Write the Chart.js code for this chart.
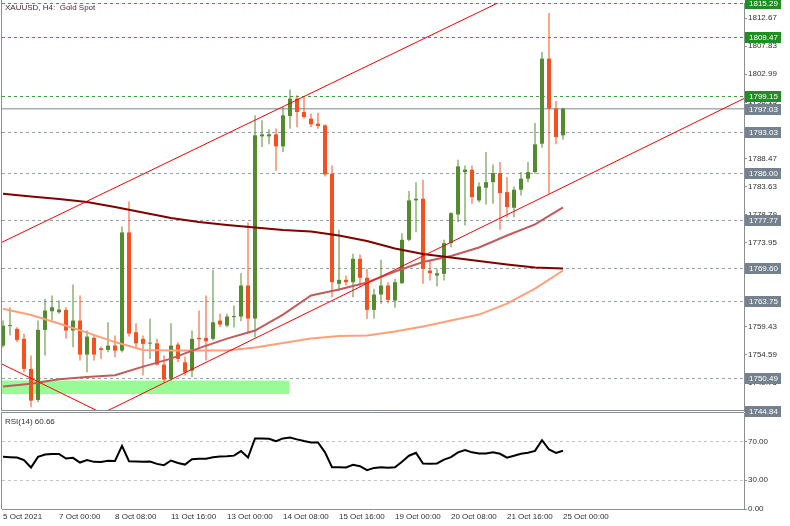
<!DOCTYPE html>
<html>
<head>
<meta charset="utf-8">
<title>XAUUSD H4</title>
<script src="https://cdn.jsdelivr.net/npm/chart.js@4.4.1/dist/chart.umd.min.js"></script>
<style>
  html, body { margin: 0; padding: 0; background: #fff; }
  #marco { position: relative; width: 790px; height: 526px; overflow: hidden; background: #fff; }
  #chart-precio { position: absolute; left: 0; top: 0; z-index: 2; }
  #chart-rsi { position: absolute; left: 0; top: 412px; z-index: 1; }
</style>
</head>
<body>
<div id="marco">
  <canvas id="chart-precio" width="790" height="420"></canvas>
  <canvas id="chart-rsi" width="790" height="114"></canvas>
</div>
<script>
'use strict';

//////////////////////////////////////////////////////////////////////
// DATOS
//////////////////////////////////////////////////////////////////////

// eje de tiempo: una vela H4 por indice
const posicionesFecha = [0, 8, 16, 24, 32, 40, 48, 56, 64, 72, 80];
const etiquetasFecha = [
  '5 Oct 2021', '7 Oct 00:00', '8 Oct 08:00', '11 Oct 16:00', '13 Oct 00:00',
  '14 Oct 08:00', '15 Oct 16:00', '19 Oct 00:00', '20 Oct 08:00',
  '21 Oct 16:00', '25 Oct 00:00'
];

const aperturas = [
  1756.13, 1759.50, 1759.02, 1757.30, 1752.11, 1746.75, 1758.85, 1762.06, 1761.89, 1762.30,
  1758.73, 1760.46, 1754.58, 1757.47, 1755.67, 1755.39, 1756.13, 1755.27, 1775.67, 1758.44,
  1757.30, 1756.48, 1756.53, 1752.85, 1750.38, 1756.31, 1753.25, 1751.81, 1757.47, 1757.47,
  1757.30, 1760.46, 1759.59, 1761.06, 1761.15, 1766.51, 1760.80, 1792.26, 1792.26, 1792.61,
  1790.53, 1795.77, 1798.78, 1796.46, 1795.32, 1794.46, 1794.16, 1785.82, 1766.80, 1767.49,
  1767.08, 1771.12, 1767.84, 1762.30, 1764.95, 1766.51, 1763.91, 1766.90, 1774.40, 1781.20,
  1781.49, 1769.10, 1768.23, 1768.53, 1773.82, 1778.78, 1786.09, 1786.51, 1781.20, 1783.39,
  1784.36, 1785.92, 1782.63, 1779.94, 1783.05, 1784.95, 1786.09, 1791.00, 1805.69, 1797.05,
  1792.44
];
const maximos = [
  1760.46, 1762.76, 1759.30, 1758.16, 1754.41, 1760.46, 1764.21, 1764.78, 1763.91, 1762.76,
  1766.68, 1764.78, 1758.73, 1757.87, 1755.96, 1760.16, 1757.87, 1776.71, 1781.03, 1759.99,
  1757.87, 1760.75, 1757.30, 1754.41, 1759.99, 1756.71, 1754.23, 1758.73, 1762.18, 1764.78,
  1769.22, 1761.62, 1761.62, 1763.05, 1768.63, 1777.40, 1795.89, 1795.03, 1793.47, 1793.64,
  1797.33, 1800.34, 1799.35, 1799.06, 1796.19, 1796.36, 1794.34, 1787.25, 1776.13, 1768.23,
  1771.98, 1771.86, 1769.39, 1765.93, 1770.95, 1767.08, 1767.66, 1775.55, 1782.81, 1784.36,
  1784.78, 1770.95, 1769.39, 1774.40, 1779.18, 1788.23, 1787.25, 1787.25, 1784.36, 1789.55,
  1787.42, 1787.82, 1785.23, 1783.62, 1786.09, 1787.82, 1794.56, 1806.83, 1813.58, 1798.37,
  1797.20
];
const minimos = [
  1755.79, 1757.87, 1756.71, 1751.52, 1745.47, 1746.34, 1754.41, 1760.46, 1761.62, 1757.30,
  1755.84, 1753.54, 1751.52, 1753.54, 1753.84, 1754.98, 1754.11, 1754.92, 1757.69, 1755.84,
  1750.95, 1753.84, 1752.68, 1749.79, 1750.08, 1753.25, 1750.95, 1750.65, 1755.84, 1753.54,
  1757.00, 1759.30, 1759.30, 1759.25, 1760.33, 1758.21, 1757.52, 1790.41, 1790.88, 1786.26,
  1789.55, 1793.59, 1793.82, 1795.32, 1793.87, 1793.59, 1785.35, 1764.48, 1765.64, 1766.51,
  1764.48, 1766.21, 1760.75, 1760.75, 1763.34, 1763.45, 1762.65, 1766.80, 1774.16, 1775.72,
  1766.80, 1767.37, 1766.33, 1767.37, 1773.13, 1777.45, 1776.88, 1780.63, 1780.86, 1780.51,
  1780.63, 1776.13, 1778.31, 1778.31, 1782.06, 1784.36, 1785.82, 1790.31, 1782.36, 1790.88,
  1791.69
];
const cierres = [
  1759.59, 1759.60, 1757.12, 1752.11, 1746.63, 1758.85, 1762.18, 1762.76, 1762.36, 1758.73,
  1760.46, 1754.58, 1757.69, 1754.58, 1755.39, 1756.13, 1755.27, 1775.67, 1758.21, 1756.53,
  1756.43, 1756.57, 1752.85, 1750.26, 1756.13, 1753.84, 1751.52, 1757.30, 1757.22, 1756.88,
  1760.16, 1759.77, 1761.15, 1761.24, 1766.51, 1760.80, 1792.44, 1792.61, 1792.61, 1790.53,
  1795.89, 1798.78, 1796.46, 1795.60, 1794.34, 1794.04, 1785.69, 1767.08, 1767.49, 1767.08,
  1771.12, 1767.84, 1762.30, 1764.95, 1766.51, 1764.03, 1767.08, 1774.40, 1781.20, 1781.49,
  1769.39, 1768.63, 1768.63, 1773.82, 1779.00, 1787.08, 1786.51, 1781.77, 1783.62, 1784.36,
  1785.92, 1782.46, 1780.04, 1783.05, 1784.95, 1786.09, 1790.88, 1805.69, 1797.05, 1792.14,
  1797.03
];

// medias moviles leidas cada 4 velas
const mmBarras = [0, 4, 8, 12, 16, 20, 24, 28, 32, 36, 40, 44, 48, 52, 56, 60, 64, 68, 72, 76, 80];
const mmLenta = [
  1782.36, 1781.89, 1781.46, 1780.94, 1780.07, 1779.12, 1778.17, 1777.48, 1776.96, 1776.53,
  1776.10, 1775.84, 1775.15, 1774.20, 1772.90, 1771.95, 1771.34, 1770.74, 1770.13, 1769.62,
  1769.45
];
const mmMedia = [
  1749.05, 1749.56, 1750.34, 1750.69, 1751.03, 1752.50, 1753.89, 1755.70, 1757.34, 1758.73,
  1761.49, 1764.78, 1765.81, 1767.02, 1768.92, 1770.57, 1771.60, 1773.07, 1775.15, 1777.05,
  1779.99
];
const mmRapida = [
  1762.48, 1761.41, 1759.94, 1758.38, 1756.74, 1755.36, 1755.27, 1755.27, 1755.27, 1755.79,
  1756.57, 1757.34, 1757.78, 1757.86, 1758.55, 1759.42, 1760.45, 1761.49, 1763.39, 1765.99,
  1769.10
];

const rsiValores = [
  54.3, 54.0, 53.6, 50.9, 43.2, 54.3, 56.8, 57.3, 57.3, 52.6,
  53.3, 48.4, 50.9, 49.1, 49.0, 50.2, 50.0, 65.8, 49.8, 49.6,
  49.3, 49.5, 47.0, 45.7, 50.5, 48.0, 46.3, 51.8, 52.3, 52.3,
  54.0, 54.6, 55.0, 55.6, 60.3, 53.6, 73.5, 73.5, 73.2, 70.7,
  73.5, 74.5, 72.5, 70.8, 69.3, 69.3, 59.0, 43.5, 43.6, 43.2,
  46.0, 44.6, 40.4, 42.8, 43.4, 43.0, 43.5, 49.3, 55.5, 58.5,
  47.4, 47.2, 47.5, 51.5, 54.0, 59.0, 61.3, 59.0, 57.8, 57.9,
  59.2, 57.5, 53.5, 55.4, 57.5, 58.6, 60.5, 71.7, 62.0, 58.5,
  60.66
];

// lineas de tendencia: [indice vela, precio]
const canalSuperior = [[-0.43, 1773.82], [80, 1820.73]];
const canalInferior = [[13.14, 1743.83], [106, 1798.89]];
const lineaBajista = [[-0.43, 1753.11], [15.29, 1743.80]];

// zona de soporte (rectangulo)
const zonaBarras = [-1, 40.9];
const zonaPrecios = [1747.79, 1750.09];

// niveles horizontales
const nivelesVerdes = [1815.29, 1809.47, 1799.15];
const nivelesGrises = [1793.03, 1786.00, 1777.77, 1769.60, 1763.75, 1750.49];
const precioBid = 1797.03;
const precioBase = 1744.84;

const ticksPrecio = [
  1812.67, 1807.83, 1802.99, 1798.15, 1793.31, 1788.47, 1783.63, 1778.79,
  1773.95, 1769.11, 1764.27, 1759.43, 1754.59, 1749.75
];
const ticksRsi = [0, 30, 70, 100];
const rangoPrecio = [1744.84, 1815.29];

//////////////////////////////////////////////////////////////////////
// ESTILO
//////////////////////////////////////////////////////////////////////

const X_MIN = -1 / 7;
const X_MAX = X_MIN + 106;
const ANCHO_EJE = 46;

const COLOR_ALCISTA = '#558b2f';
const COLOR_BAJISTA = '#f4511e';
const GRIS_EJE = '#8a8f96';
const COLOR_TEXTO = '#303030';
const VERDE_NIVEL = '#3f9f3f';
const GRIS_NIVEL = '#96a0aa';
const CAJA_VERDE = '#1f8f22';
const CAJA_GRIS = '#76818e';
const COLOR_BID = '#a7aeb6';

Chart.defaults.font.family = "'Liberation Sans', Arial, sans-serif";
Chart.defaults.font.size = 8;
Chart.defaults.color = COLOR_TEXTO;

function fuente() {
  return "8px 'Liberation Sans', Arial, sans-serif";
}

function pares(lista) {
  return lista.map(function (p) {
    return { x: p[0], y: p[1] };
  });
}

function puntosMedia(valores) {
  return valores.map(function (v, i) {
    return { x: mmBarras[i], y: v };
  });
}

function colorVela(i) {
  return cierres[i] >= aperturas[i] ? COLOR_ALCISTA : COLOR_BAJISTA;
}

//////////////////////////////////////////////////////////////////////
// PLUGINS
//////////////////////////////////////////////////////////////////////

function lineaNivel(ctx, area, py, color, dash, ancho) {
  ctx.save();
  ctx.strokeStyle = color;
  ctx.lineWidth = ancho;
  ctx.setLineDash(dash);
  ctx.beginPath();
  ctx.moveTo(area.left, py);
  ctx.lineTo(area.right, py);
  ctx.stroke();
  ctx.restore();
}

function cajaPrecio(ctx, area, py, precio, fondo) {
  const yc = Math.round(py);
  ctx.fillStyle = fondo;
  ctx.fillRect(area.right + 1, yc - 5, 36, 11);
  ctx.fillStyle = '#ffffff';
  ctx.font = fuente();
  ctx.textAlign = 'left';
  ctx.textBaseline = 'middle';
  ctx.fillText(precio.toFixed(2), area.right + 5, yc + 0.5);
}

const pluginNiveles = {
  id: 'niveles',
  beforeDatasetsDraw: function (chart) {
    const ctx = chart.ctx;
    const area = chart.chartArea;
    const esc = chart.scales.y;
    ctx.save();
    ctx.beginPath();
    ctx.rect(area.left, 0, area.right - area.left, area.bottom + 1);
    ctx.clip();
    nivelesVerdes.forEach(function (p) {
      lineaNivel(ctx, area, Math.round(esc.getPixelForValue(p)) + 0.5, VERDE_NIVEL, [3, 3], 1);
    });
    nivelesGrises.forEach(function (p) {
      lineaNivel(ctx, area, Math.round(esc.getPixelForValue(p)) + 0.5, GRIS_NIVEL, [3, 3], 1);
    });
    lineaNivel(ctx, area, esc.getPixelForValue(precioBid), COLOR_BID, [], 1.6);
    ctx.restore();
  },
  afterDraw: function (chart) {
    const ctx = chart.ctx;
    const area = chart.chartArea;
    const esc = chart.scales.y;

    // borde inferior y lateral
    ctx.save();
    ctx.strokeStyle = GRIS_EJE;
    ctx.lineWidth = 1;
    ctx.beginPath();
    ctx.moveTo(area.left - 0.5, 0);
    ctx.lineTo(area.left - 0.5, area.bottom);
    ctx.moveTo(area.left, Math.round(esc.getPixelForValue(precioBase)) - 0.5);
    ctx.lineTo(area.right, Math.round(esc.getPixelForValue(precioBase)) - 0.5);
    ctx.stroke();
    ctx.restore();

    nivelesVerdes.forEach(function (p) {
      cajaPrecio(ctx, area, esc.getPixelForValue(p), p, CAJA_VERDE);
    });
    nivelesGrises.forEach(function (p) {
      cajaPrecio(ctx, area, esc.getPixelForValue(p), p, CAJA_GRIS);
    });
    cajaPrecio(ctx, area, esc.getPixelForValue(precioBid), precioBid, CAJA_GRIS);
    cajaPrecio(ctx, area, esc.getPixelForValue(precioBase) - 0.5, precioBase, CAJA_GRIS);

    ctx.fillStyle = COLOR_TEXTO;
    ctx.font = fuente();
    ctx.textAlign = 'left';
    ctx.textBaseline = 'alphabetic';
    ctx.fillText('XAUUSD, H4:  Gold Spot', 5, 10);
  }
};

const pluginMarcoRsi = {
  id: 'marcoRsi',
  afterDraw: function (chart) {
    const ctx = chart.ctx;
    const area = chart.chartArea;
    ctx.save();
    ctx.strokeStyle = GRIS_EJE;
    ctx.lineWidth = 1;
    ctx.beginPath();
    ctx.moveTo(area.left - 0.5, 0.5);
    ctx.lineTo(area.right, 0.5);
    ctx.moveTo(area.left - 0.5, 0);
    ctx.lineTo(area.left - 0.5, area.bottom);
    ctx.stroke();
    ctx.fillStyle = COLOR_TEXTO;
    ctx.font = fuente();
    ctx.textAlign = 'left';
    ctx.textBaseline = 'alphabetic';
    ctx.fillText('RSI(14) ' + rsiValores[rsiValores.length - 1].toFixed(2), 5, 12);
    ctx.restore();
  }
};

//////////////////////////////////////////////////////////////////////
// GRAFICO DE PRECIO
//////////////////////////////////////////////////////////////////////

function construirDatasetsPrecio() {
  const colores = aperturas.map(function (o, i) {
    return colorVela(i);
  });

  const datasets = [];

  datasets.push({
    type: 'line',
    data: [{ x: zonaBarras[0], y: zonaPrecios[1] }, { x: zonaBarras[1], y: zonaPrecios[1] }],
    borderWidth: 0,
    pointRadius: 0,
    backgroundColor: '#98fb98',
    fill: '+1',
    order: 8
  });
  datasets.push({
    type: 'line',
    data: [{ x: zonaBarras[0], y: zonaPrecios[0] }, { x: zonaBarras[1], y: zonaPrecios[0] }],
    borderWidth: 0,
    pointRadius: 0,
    fill: false,
    order: 9
  });

  datasets.push({
    type: 'bar',
    data: aperturas.map(function (o, i) {
      return { x: i, y: [minimos[i], maximos[i]] };
    }),
    backgroundColor: colores,
    barThickness: 1,
    grouped: false,
    borderWidth: 0,
    inflateAmount: 0,
    order: 6
  });
  datasets.push({
    type: 'bar',
    data: aperturas.map(function (o, i) {
      return { x: i, y: [o, cierres[i]] };
    }),
    backgroundColor: colores,
    barThickness: 4,
    grouped: false,
    borderWidth: 0,
    inflateAmount: 0,
    minBarLength: 1,
    order: 5
  });

  [
    { valores: mmLenta, color: '#800000' },
    { valores: mmMedia, color: '#c25b5b' },
    { valores: mmRapida, color: '#ffa07a' }
  ].forEach(function (m) {
    datasets.push({
      type: 'line',
      data: puntosMedia(m.valores),
      borderColor: m.color,
      borderWidth: 2,
      pointRadius: 0,
      tension: 0,
      fill: false,
      order: 3
    });
  });

  [canalSuperior, canalInferior, lineaBajista].forEach(function (l) {
    datasets.push({
      type: 'line',
      data: pares(l),
      borderColor: '#ff0000',
      borderWidth: 1,
      pointRadius: 0,
      fill: false,
      order: 1
    });
  });

  return datasets;
}

new Chart(document.getElementById('chart-precio').getContext('2d'), {
  type: 'line',
  data: { datasets: construirDatasetsPrecio() },
  options: {
    responsive: false,
    animation: false,
    devicePixelRatio: 1,
    events: [],
    layout: { padding: { left: 2, top: 3, right: 0, bottom: 9 } },
    plugins: { legend: { display: false }, tooltip: { enabled: false } },
    scales: {
      x: { type: 'linear', display: false, min: X_MIN, max: X_MAX, offset: false },
      y: {
        type: 'linear',
        position: 'right',
        min: rangoPrecio[0],
        max: rangoPrecio[1],
        afterBuildTicks: function (s) {
          s.ticks = ticksPrecio.map(function (v) { return { value: v }; });
        },
        afterFit: function (s) {
          s.width = ANCHO_EJE;
          s.paddingTop = 0;
          s.paddingBottom = 0;
        },
        grid: { drawOnChartArea: false, drawTicks: true, tickLength: 3, tickColor: GRIS_EJE },
        border: { display: true, color: GRIS_EJE },
        ticks: {
          padding: 1,
          color: COLOR_TEXTO,
          callback: function (v) { return Number(v).toFixed(2); }
        }
      }
    }
  },
  plugins: [pluginNiveles]
});

//////////////////////////////////////////////////////////////////////
// GRAFICO RSI
//////////////////////////////////////////////////////////////////////

new Chart(document.getElementById('chart-rsi').getContext('2d'), {
  type: 'line',
  data: {
    datasets: [{
      data: rsiValores.map(function (v, i) { return { x: i, y: v }; }),
      borderColor: '#000000',
      borderWidth: 2,
      pointRadius: 0,
      tension: 0,
      fill: false
    }]
  },
  options: {
    responsive: false,
    animation: false,
    devicePixelRatio: 1,
    events: [],
    layout: { padding: { left: 2, top: 1, right: 0, bottom: 0 } },
    plugins: { legend: { display: false }, tooltip: { enabled: false } },
    scales: {
      x: {
        type: 'linear',
        position: 'bottom',
        min: X_MIN,
        max: X_MAX,
        offset: false,
        afterBuildTicks: function (s) {
          s.ticks = posicionesFecha.map(function (v) { return { value: v }; });
        },
        afterFit: function (s) {
          s.height = 17;
          s.paddingLeft = 0;
          s.paddingRight = 0;
        },
        grid: { display: false, drawTicks: false, tickLength: 0 },
        border: { display: true, color: GRIS_EJE },
        ticks: {
          autoSkip: false,
          maxRotation: 0,
          minRotation: 0,
          align: 'start',
          padding: 3,
          color: COLOR_TEXTO,
          callback: function (v, i) { return etiquetasFecha[i]; }
        }
      },
      y: {
        type: 'linear',
        position: 'right',
        min: 0,
        max: 100,
        afterBuildTicks: function (s) {
          s.ticks = ticksRsi.map(function (v) { return { value: v }; });
        },
        afterFit: function (s) {
          s.width = ANCHO_EJE;
          s.paddingTop = 0;
          s.paddingBottom = 0;
        },
        grid: {
          drawOnChartArea: true,
          drawTicks: true,
          tickLength: 3,
          tickColor: GRIS_EJE,
          tickBorderDash: [],
          color: function (c) {
            const v = c.tick ? c.tick.value : null;
            return (v === 30 || v === 70) ? '#c4c4c4' : 'rgba(0,0,0,0)';
          }
        },
        border: { display: true, color: GRIS_EJE, dash: [3, 3] },
        ticks: {
          padding: 1,
          color: COLOR_TEXTO,
          callback: function (v) { return Number(v).toFixed(2); }
        }
      }
    }
  },
  plugins: [pluginMarcoRsi]
});
</script>
</body>
</html>
